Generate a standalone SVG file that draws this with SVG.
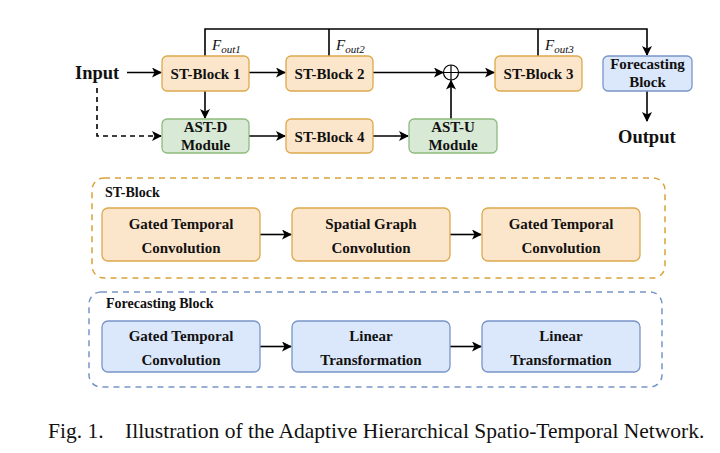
<svg xmlns="http://www.w3.org/2000/svg" width="720" height="453" viewBox="0 0 720 453">
<defs>
<marker id="arr" markerWidth="10" markerHeight="10" refX="9" refY="5" orient="auto" markerUnits="userSpaceOnUse">
<path d="M0,0 L10,5 L0,10 L2.5,5 Z" fill="#000"/>
</marker>
</defs>
<style>
.o{fill:#fce6cb;stroke:#dca94c;stroke-width:1.3}
.g{fill:#d8e9d5;stroke:#8fbb7e;stroke-width:1.3}
.b{fill:#dbe7fa;stroke:#7895c8;stroke-width:1.3}
.t{font-family:"Liberation Serif",serif;font-weight:bold;font-size:15px;text-anchor:middle;fill:#111}
.big{font-family:"Liberation Serif",serif;font-weight:bold;font-size:18.5px;fill:#111}
.lab{font-family:"Liberation Serif",serif;font-weight:bold;font-size:14px;fill:#111}
.f{font-family:"Liberation Serif",serif;font-style:italic;font-size:15px;fill:#111}
.c{stroke:#000;stroke-width:1.6;fill:none}
.cap{font-family:"Liberation Serif",serif;font-size:21.5px;fill:#111}
</style>
<rect width="720" height="453" fill="#fff"/>

<g id="connectors">
<path class="c" d="M127,72.5 H161" marker-end="url(#arr)"/>
<path class="c" d="M249,72.5 H285" marker-end="url(#arr)"/>
<path class="c" d="M373,72.5 H443" marker-end="url(#arr)"/>
<path class="c" d="M459,72.5 H494" marker-end="url(#arr)"/>
<path class="c" d="M205,91 V118" marker-end="url(#arr)"/>
<path class="c" d="M97,88 V136 H161" stroke-dasharray="5,4" marker-end="url(#arr)"/>
<path class="c" d="M249,136 H285" marker-end="url(#arr)"/>
<path class="c" d="M373,136 H408" marker-end="url(#arr)"/>
<path class="c" d="M451,119 V80.5" marker-end="url(#arr)"/>
<path class="c" d="M205,56 V29 H647 V55" marker-end="url(#arr)"/>
<path class="c" d="M329,56 V29"/>
<path class="c" d="M538,56 V29"/>
<path class="c" d="M647,91 V121" marker-end="url(#arr)"/>
<path class="c" d="M260,234.5 H291" marker-end="url(#arr)"/>
<path class="c" d="M450,234.5 H481" marker-end="url(#arr)"/>
<path class="c" d="M260,346.5 H291" marker-end="url(#arr)"/>
<path class="c" d="M450,346.5 H481" marker-end="url(#arr)"/>
</g>

<g id="input"><text class="big" x="75" y="79">Input</text></g>
<g id="output"><text class="big" x="618" y="143">Output</text></g>

<g id="fout1"><text class="f" x="212" y="50">F<tspan font-size="11" dy="3">out1</tspan></text></g>
<g id="fout2"><text class="f" x="336" y="50">F<tspan font-size="11" dy="3">out2</tspan></text></g>
<g id="fout3"><text class="f" x="545" y="50">F<tspan font-size="11" dy="3">out3</tspan></text></g>

<g id="plus">
<circle cx="451" cy="72.5" r="7.5" fill="#fff" stroke="#000" stroke-width="1.2"/>
<path d="M443.5,72.5 H458.5 M451,65 V80" stroke="#000" stroke-width="1.2"/>
</g>

<g id="stblock1"><rect class="o" x="162" y="56" width="87" height="35" rx="5"/><text class="t" x="205.5" y="78.5">ST-Block 1</text></g>
<g id="stblock2"><rect class="o" x="286" y="56" width="87" height="35" rx="5"/><text class="t" x="329.5" y="78.5">ST-Block 2</text></g>
<g id="stblock3"><rect class="o" x="495" y="56" width="87" height="35" rx="5"/><text class="t" x="538.5" y="78.5">ST-Block 3</text></g>
<g id="forecast"><rect class="b" x="603" y="56" width="89" height="35" rx="5"/><text class="t" x="647.5" y="69">Forecasting</text><text class="t" x="647.5" y="86.5">Block</text></g>
<g id="astd"><rect class="g" x="162" y="119" width="87" height="34" rx="5"/><text class="t" x="205.5" y="132">AST-D</text><text class="t" x="205.5" y="150">Module</text></g>
<g id="stblock4"><rect class="o" x="286" y="119" width="87" height="34" rx="5"/><text class="t" x="329.5" y="141.5">ST-Block 4</text></g>
<g id="astu"><rect class="g" x="409" y="119" width="88" height="34" rx="5"/><text class="t" x="453" y="132">AST-U</text><text class="t" x="453" y="150">Module</text></g>

<g id="stblock-detail">
<rect x="92" y="178" width="573" height="100" rx="12" fill="none" stroke="#d9a33a" stroke-width="1.5" stroke-dasharray="6,5"/>
<text class="lab" x="105" y="197">ST-Block</text>
</g>
<g id="st-gtc1"><rect class="o" x="102" y="208" width="158" height="53" rx="6"/><text class="t" x="181" y="229">Gated Temporal</text><text class="t" x="181" y="253">Convolution</text></g>
<g id="st-sgc"><rect class="o" x="292" y="208" width="158" height="53" rx="6"/><text class="t" x="371" y="229">Spatial Graph</text><text class="t" x="371" y="253">Convolution</text></g>
<g id="st-gtc2"><rect class="o" x="482" y="208" width="158" height="53" rx="6"/><text class="t" x="561" y="229">Gated Temporal</text><text class="t" x="561" y="253">Convolution</text></g>

<g id="forecast-detail">
<rect x="89" y="292" width="573" height="95" rx="12" fill="none" stroke="#7895c8" stroke-width="1.5" stroke-dasharray="6,5"/>
<text class="lab" x="106" y="308">Forecasting Block</text>
</g>
<g id="fb-gtc"><rect class="b" x="102" y="321" width="158" height="51" rx="6"/><text class="t" x="181" y="341">Gated Temporal</text><text class="t" x="181" y="365">Convolution</text></g>
<g id="fb-lt1"><rect class="b" x="292" y="321" width="158" height="51" rx="6"/><text class="t" x="371" y="341">Linear</text><text class="t" x="371" y="365">Transformation</text></g>
<g id="fb-lt2"><rect class="b" x="482" y="321" width="158" height="51" rx="6"/><text class="t" x="561" y="341">Linear</text><text class="t" x="561" y="365">Transformation</text></g>

<g id="caption">
<text class="cap" x="48" y="438">Fig. 1.</text>
<text class="cap" x="125" y="438">Illustration of the Adaptive Hierarchical Spatio-Temporal Network.</text>
</g>
</svg>
